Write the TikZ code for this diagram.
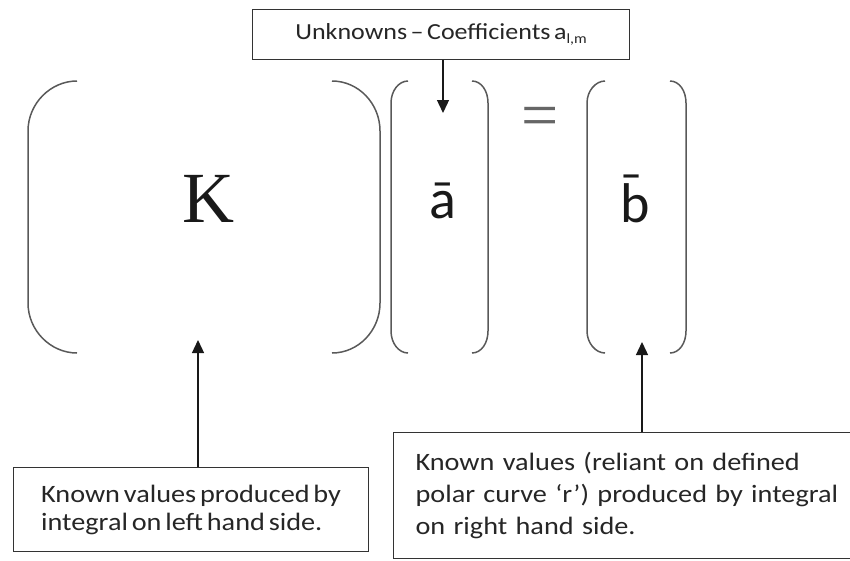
\documentclass[tikz,border=0pt]{standalone}
\usepackage{fontspec}
\setmainfont{Carlito}[FakeStretch=1.13,WordSpace=0.6]
\newfontfamily\serifK{Liberation Serif}
\newfontfamily\bigsans{Carlito}
\usetikzlibrary{arrows.meta,positioning,calc}

\begin{document}
\begin{tikzpicture}[
    x=1pt, y=-1pt,
    note/.style={rectangle, draw=black!80, line width=1.2pt, fill=white, text=black!85, align=left, inner sep=0pt, font=\fontsize{25}{28}\selectfont},
    paren/.style={draw=black!65, line width=1.5pt},
    entry/.style={text=black!90, inner sep=0pt},
    arrow/.style={-{Triangle[width=12pt,length=13pt]}, line width=1.3pt, draw=black!90}
]
    \useasboundingbox (0,0) rectangle (850,560);

    % brackets: left end / left edge / right end / right edge / corner
    \foreach \xl/\xo/\xr/\xe/\cx in {77/28/332/380/48, 408/391/472/488/17, 605/587/670/686/17} {
        \pgfmathsetmacro{\cy}{\cx>30 ? 50 : 22}
        \draw [paren] (\xl,81) .. controls +(-0.55*\cx,0) and +(0,-0.55*\cy) .. (\xo,81+\cy)
            -- (\xo,353-\cy) .. controls +(0,0.55*\cy) and +(-0.55*\cx,0) .. (\xl,353);
        \draw [paren] (\xr,81) .. controls +(0.55*\cx,0) and +(0,-0.55*\cy) .. (\xe,81+\cy)
            -- (\xe,353-\cy) .. controls +(0,0.55*\cy) and +(0.55*\cx,0) .. (\xr,353);
    }

    \node [entry, font=\serifK\fontsize{72}{72}\selectfont] (K) at (208,199) {K};
    \node [entry, font=\bigsans\fontsize{56}{56}\selectfont] (abar) at (443,201) {\=a};
    \node [entry, font=\bigsans\fontsize{56}{56}\selectfont] (bbar) at (635,199) {\makebox[0pt][l]{\raisebox{0.21em}{¯}}b};
    \node [entry, text=black!60, font=\serifK\fontsize{66}{66}\selectfont] (eq) at (540,122.5) {=};

    \node [note, anchor=north west, minimum width=377pt, minimum height=50pt, font=\fontsize{23}{28}\selectfont] (unk) at (252,9) {Unknowns – Coefficients a{\fontsize{14}{14}\selectfont\raisebox{-4pt}{l,m}}};
    \node [note, anchor=north west, minimum width=355pt, minimum height=84pt] (lhs) at (13,467) {Known values produced by\\integral on left hand side.};
    \node [note, anchor=north west, text width=480pt, inner xsep=22pt, minimum height=126pt, font=\fontsize{25}{32}\selectfont] (rhs) at (393,432) {Known values (reliant on defined\\polar curve ‘r’) produced by integral\\on right hand side.};

    \coordinate (atip) at (443,113);
    \coordinate (ktip) at (198,340);
    \coordinate (btip) at (642,342);

    \draw [arrow] (unk.south -| atip) -- (atip);
    \draw [arrow] (lhs.north -| ktip) -- (ktip);
    \draw [arrow] (rhs.north -| btip) -- (btip);
\end{tikzpicture}
\end{document}
